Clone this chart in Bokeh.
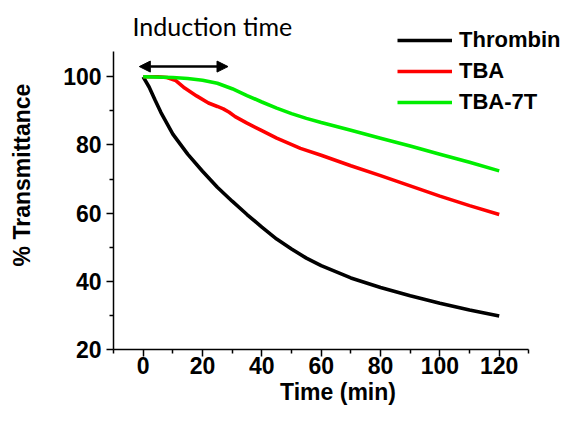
from bokeh.plotting import figure
from bokeh.models import (Range1d, FixedTicker, Legend, LegendItem, Arrow, NormalHead, Label)
from bokeh.embed import file_html
from bokeh.resources import INLINE

# ---- data ----
t_thrombin = [0, 2, 4, 6, 10, 15, 20, 25, 30, 35, 40, 45, 50, 55, 60, 70, 80, 90, 100, 110, 120]
v_thrombin = [100, 97, 93.2, 89.5, 83.2, 77.3, 72.3, 67.6, 63.5, 59.6, 55.9, 52.4, 49.5, 46.8, 44.6,
              41.0, 38.2, 35.8, 33.6, 31.6, 29.8]

t_tba = [0, 5, 8, 11, 14, 18, 22, 25, 27, 29, 31, 35, 40, 45, 53, 60, 70, 80, 90, 100, 110, 120]
v_tba = [100, 100, 99.8, 98.9, 96.7, 94.4, 92.3, 91.3, 90.6, 89.6, 88.3, 86.4, 84.2, 82.0, 79.0,
         77.0, 73.9, 71.0, 68.0, 65.0, 62.2, 59.6]

t_tba7t = [0, 10, 15, 20, 25, 30, 35, 40, 45, 50, 55, 60, 70, 80, 90, 100, 110, 120]
v_tba7t = [100, 99.8, 99.5, 99.0, 98.1, 96.5, 94.5, 92.6, 90.8, 89.2, 87.8, 86.6, 84.3, 82.0,
           79.7, 77.3, 74.9, 72.4]

series_names = ["Thrombin", "TBA", "TBA-7T"]
series_colors = ["#000000", "#ff0000", "#00ee00"]

x_ticks = [0, 20, 40, 60, 80, 100, 120]
x_minor = [-10, 10, 30, 50, 70, 90, 110, 130]
x_axis_bounds = (-10, 130)
y_ticks = [20, 40, 60, 80, 100]
y_minor = [30, 50, 70, 90]
y_axis_bounds = (20, 107.5)

induction_start = -1.3
induction_end = 28.6
induction_y = 103
induction_label = "Induction time"
induction_label_x = -3.6
induction_label_y = 115.0

# ---- figure ----
p = figure(width=562, height=410, output_backend="svg", toolbar_location=None,
           x_range=Range1d(-10, 141.33), y_range=Range1d(20, 122.38),
           min_border_left=113, min_border_right=0, min_border_top=0, min_border_bottom=61)
p.outline_line_color = None
p.xgrid.visible = False
p.ygrid.visible = False
p.background_fill_color = "white"
p.border_fill_color = "white"

renderers = []
for tx, vy, c in zip([t_thrombin, t_tba, t_tba7t], [v_thrombin, v_tba, v_tba7t], series_colors):
    r = p.line(tx, vy, line_color=c, line_width=3.6)
    renderers.append(r)

p.xaxis.ticker = FixedTicker(ticks=x_ticks, minor_ticks=x_minor)
p.yaxis.ticker = FixedTicker(ticks=y_ticks, minor_ticks=y_minor)
p.xaxis.bounds = x_axis_bounds
p.yaxis.bounds = y_axis_bounds

for ax in (p.xaxis[0], p.yaxis[0]):
    ax.axis_line_width = 1.5
    ax.major_tick_line_width = 1.5
    ax.minor_tick_line_width = 1.5
    ax.major_tick_out = 7
    ax.major_tick_in = 0
    ax.minor_tick_out = 4
    ax.minor_tick_in = 0
    ax.major_label_text_font = "Liberation Sans"
    ax.major_label_text_font_style = "bold"
    ax.major_label_text_font_size = "23px"
    ax.major_label_text_color = "black"
    ax.axis_label_text_font = "Liberation Sans"
    ax.axis_label_text_font_style = "bold"
    ax.axis_label_text_font_size = "23px"
    ax.axis_label_text_color = "black"
    ax.axis_line_color = "black"
    ax.major_tick_line_color = "black"
    ax.minor_tick_line_color = "black"

p.xaxis.axis_label = "Time (min)"
p.yaxis.axis_label = "% Transmittance"
p.xaxis.major_label_standoff = 0
p.xaxis.axis_label_standoff = 2
p.yaxis.major_label_standoff = 5
p.yaxis.axis_label_standoff = 25

legend = Legend(items=[LegendItem(label=n, renderers=[r]) for n, r in zip(series_names, renderers)],
                location=(284, 234), padding=0, margin=0, spacing=5,
                glyph_width=55, glyph_height=24, label_standoff=7,
                label_text_font="Liberation Sans", label_text_font_style="bold",
                label_text_font_size="22px", label_text_color="black",
                border_line_color=None, background_fill_alpha=0)
p.add_layout(legend, "center")

arrow = Arrow(start=NormalHead(size=11, fill_color="black", line_color="black"),
              end=NormalHead(size=11, fill_color="black", line_color="black"),
              x_start=induction_start, y_start=induction_y,
              x_end=induction_end, y_end=induction_y, line_width=2.5, line_color="black")
p.add_layout(arrow)

lab = Label(x=induction_label_x, y=induction_label_y, text=induction_label,
            text_font="Lato", text_font_size="25px", text_baseline="middle",
            text_color="black")
p.add_layout(lab)

open("out.html", "w").write(file_html(p, INLINE))
